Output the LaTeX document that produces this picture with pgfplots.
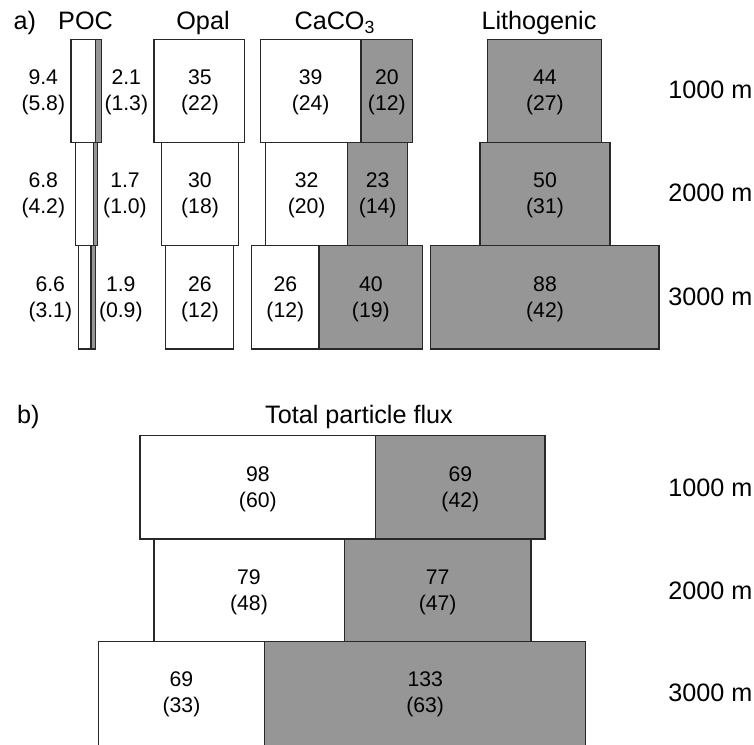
\documentclass[border=0pt]{standalone}
\usepackage{fontspec}
\setmainfont{Liberation Sans}
\usepackage{pgfplots}
\pgfplotsset{compat=1.18}
\definecolor{barg}{RGB}{150,150,150}
\definecolor{edge}{RGB}{40,40,40}
\tikzset{
  wseg/.style={draw=edge, fill=white, line width=0.55pt},
  gseg/.style={draw=edge, fill=barg, line width=0.55pt},
  lab/.style={font=\fontsize{10.6}{13}\selectfont, align=center, inner sep=0pt},
  ttl/.style={font=\fontsize{12.6}{14}\selectfont, inner sep=0pt},
}
% one segment: left, right, top, bottom (image pixels), style
\newcommand{\seg}[5]{\addplot[#5] coordinates {(#1,#3) (#2,#3) (#2,#4) (#1,#4)} -- cycle;}
\begin{document}
\begin{tikzpicture}
\begin{axis}[name=ax,
  width=377pt, height=372pt, scale only axis,
  xmin=0, xmax=754, ymin=0, ymax=744, y dir=reverse,
  hide axis, clip=true,
]
% ---------- panel a ----------
% POC
\seg{71}{95.7}{39.5}{142.7}{wseg}
\seg{95.7}{101.7}{39.5}{142.7}{gseg}
\seg{75.3}{93.3}{142.7}{245.7}{wseg}
\seg{93.3}{97.3}{142.7}{245.7}{gseg}
\seg{78.3}{91}{245.7}{349}{wseg}
\seg{91}{95.7}{245.7}{349}{gseg}
% Opal
\seg{154}{244.3}{39.5}{142.7}{wseg}
\seg{161.3}{238.7}{142.7}{245.7}{wseg}
\seg{165.7}{233.7}{245.7}{349}{wseg}
% CaCO3
\seg{260.3}{361}{39.5}{142.7}{wseg}
\seg{361}{412.7}{39.5}{142.7}{gseg}
\seg{265.7}{347.7}{142.7}{245.7}{wseg}
\seg{347.7}{407.7}{142.7}{245.7}{gseg}
\seg{251.7}{319}{245.7}{349}{wseg}
\seg{319}{422.7}{245.7}{349}{gseg}
% Lithogenic
\seg{487.7}{601.7}{39.5}{142.7}{gseg}
\seg{480}{610}{142.7}{245.7}{gseg}
\seg{430.7}{659}{245.7}{349}{gseg}
% ---------- panel b ----------
\seg{140}{375.7}{435.7}{539}{wseg}
\seg{375.7}{545}{435.7}{539}{gseg}
\seg{154}{344.3}{539}{641.7}{wseg}
\seg{344.3}{531}{539}{641.7}{gseg}
\seg{98.3}{264.7}{641.7}{748}{wseg}
\seg{264.7}{585.7}{641.7}{748}{gseg}

% titles
\node[ttl, anchor=base west] at (axis cs:13.3,29.5) {a)};
\node[ttl, anchor=base] at (axis cs:85.5,29.5) {POC};
\node[ttl, anchor=base] at (axis cs:203,29.5) {Opal};
\node[ttl, anchor=base] at (axis cs:335,29.5) {CaCO\textsubscript{3}};
\node[ttl, anchor=base] at (axis cs:539,29.5) {Lithogenic};
\node[ttl, anchor=base west] at (axis cs:16.7,423) {b)};
\node[ttl, anchor=base] at (axis cs:359,423) {Total particle flux};
% depth labels
\node[ttl, anchor=west] at (axis cs:668,90) {1000 m};
\node[ttl, anchor=west] at (axis cs:668,193) {2000 m};
\node[ttl, anchor=west] at (axis cs:668,297) {3000 m};
\node[ttl, anchor=west] at (axis cs:668,488) {1000 m};
\node[ttl, anchor=west] at (axis cs:668,591) {2000 m};
\node[ttl, anchor=west] at (axis cs:668,693) {3000 m};
% value labels panel a
\node[lab] at (axis cs:43.3,92.6) {9.4\\(5.8)};
\node[lab] at (axis cs:126.3,92.6) {2.1\\(1.3)};
\node[lab] at (axis cs:43.3,195.7) {6.8\\(4.2)};
\node[lab] at (axis cs:125,195.7) {1.7\\(1.0)};
\node[lab] at (axis cs:50.3,298.8) {6.6\\(3.1)};
\node[lab] at (axis cs:120.8,298.8) {1.9\\(0.9)};
\node[lab] at (axis cs:200,92.6) {35\\(22)};
\node[lab] at (axis cs:200,195.7) {30\\(18)};
\node[lab] at (axis cs:200,298.8) {26\\(12)};
\node[lab] at (axis cs:310.7,92.6) {39\\(24)};
\node[lab] at (axis cs:386.8,92.6) {20\\(12)};
\node[lab] at (axis cs:306.7,195.7) {32\\(20)};
\node[lab] at (axis cs:377.7,195.7) {23\\(14)};
\node[lab] at (axis cs:285.3,298.8) {26\\(12)};
\node[lab] at (axis cs:370.8,298.8) {40\\(19)};
\node[lab] at (axis cs:544.9,92.6) {44\\(27)};
\node[lab] at (axis cs:545,195.7) {50\\(31)};
\node[lab] at (axis cs:545,298.8) {88\\(42)};
% value labels panel b
\node[lab] at (axis cs:257.8,489.5) {98\\(60)};
\node[lab] at (axis cs:460.3,489.5) {69\\(42)};
\node[lab] at (axis cs:249,592.5) {79\\(48)};
\node[lab] at (axis cs:437.7,592.5) {77\\(47)};
\node[lab] at (axis cs:181.5,694.5) {69\\(33)};
\node[lab] at (axis cs:425.2,694.5) {133\\(63)};
\end{axis}
\pgfresetboundingbox
\path (ax.south west) rectangle (ax.north east);
\end{tikzpicture}
\end{document}
